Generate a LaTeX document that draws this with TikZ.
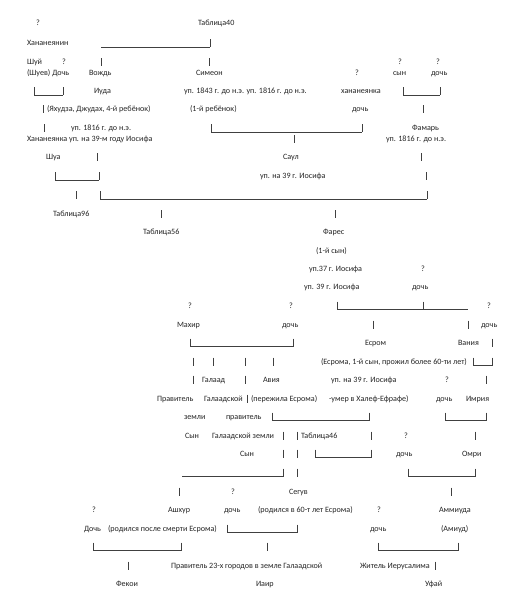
\documentclass[tikz,border=0pt]{standalone}
\usepackage{fontspec}
\setmainfont{Carlito}
\newcounter{nd}
\newcommand\tx[3]{\stepcounter{nd}\node[lbl] (n\arabic{nd}) at (#1,{-3-#2}) {#3};}
\newcommand\vb[2]{\draw[ln] (#1,{3.5-#2}) -- (#1,{-4.5-#2});}
\newcommand\hb[3]{\draw[ln] (#1,{-4.5-#3}) -- (#2,{-4.5-#3});}
\begin{document}
\begin{tikzpicture}[x=1pt,y=1pt,
  lbl/.style={anchor=base west,inner sep=0pt,outer sep=0pt,font=\fontsize{8.1}{10}\selectfont,text=black!85},
  ln/.style={line width=0.5pt,draw=black!75}]
\useasboundingbox[fill=white] (0,0) rectangle (509,-601);
% row 23
\tx{36}{23}{?}
\tx{198}{23}{Таблица40}
% row 43
\tx{27}{43}{Хананеянин}
\hb{101}{210}{43}\vb{210}{43}
% row 62
\tx{27}{62}{Шуй}
\tx{62}{62}{?}
\vb{101}{62}\vb{209}{62}
\tx{398}{62}{?}
\tx{436}{62}{?}
% row 73
\tx{27}{73}{(Шуев) Дочь}
\tx{89}{73}{Вождь}
\tx{196}{73}{Симеон}
\tx{355}{73}{?}
\tx{393}{73}{сын}
\tx{431}{73}{дочь}
% row 91
\vb{34}{91}\hb{34}{63}{91}\vb{63}{91}
\tx{94}{91}{Иуда}
\tx{184}{91}{уп. 1843 г. до н.э. уп. 1816 г. до н.э.}
\tx{341}{91}{хананеянка}
\vb{403}{91}\hb{403}{440}{91}\vb{440}{91}
% row 109
\vb{43}{109}
\tx{47}{109}{(Яхудза, Джудах, 4-й ребёнок)}
\tx{190}{109}{(1-й ребёнок)}
\tx{352}{109}{дочь}
\vb{423}{109}
% row 128
\vb{44}{128}
\tx{71}{128}{уп. 1816 г. до н.э.}
\vb{211}{128}\hb{211}{362}{128}\vb{362}{128}
\tx{412}{128}{Фамарь}
% row 139
\tx{27}{139}{Хананеянка уп. на 39-м году Иосифа}
\vb{294}{139}
\tx{386}{139}{уп. 1816 г. до н.э.}
% row 157
\tx{46}{157}{Шуа}
\vb{97}{157}
\tx{283}{157}{Саул}
\vb{421}{157}
% row 176
\vb{55}{176}\hb{55}{99}{176}\vb{99}{176}
\tx{260}{176}{уп. на 39 г. Иосифа}
\vb{426}{176}
% row 195
\vb{76}{195}
\vb{100}{195}\hb{100}{427}{195}\vb{427}{195}
% row 214
\tx{53}{214}{Таблица96}
\vb{161}{214}\vb{335}{214}
% row 231
\tx{143}{231}{Таблица56}
\tx{323}{231}{Фарес}
% row 250
\tx{316}{250}{(1-й сын)}
% row 268
\tx{309}{268}{уп.37 г. Иосифа}
\tx{421}{268}{?}
% row 286
\tx{304}{286}{уп. 39 г. Иосифа}
\tx{412}{286}{дочь}
% row 305
\tx{188}{305}{?}
\tx{289}{305}{?}
\vb{337}{305}\hb{337}{468}{305}\vb{423}{305}
\tx{487}{305}{?}
% row 324
\tx{177}{324}{Махир}
\tx{282}{324}{дочь}
\vb{373}{324}\vb{468}{324}
\tx{481}{324}{дочь}
% row 342
\vb{190}{342}\hb{190}{293}{342}\vb{293}{342}
\tx{365}{342}{Есром}
\tx{458}{342}{Вания}
\vb{492}{342}
% row 361
\vb{193}{361}\vb{213}{361}\vb{245}{361}\vb{273}{361}
\tx{321}{361}{(Есрома, 1-й сын, прожил более 60-ти лет)}
\vb{473}{361}\hb{473}{492}{361}\vb{492}{361}
% row 379
\vb{193}{379}
\tx{202}{379}{Галаад}
\vb{245}{379}
\tx{263}{379}{Авия}
\tx{331}{379}{уп. на 39 г. Иосифа}
\tx{445}{379}{?}
\vb{486}{379}
% row 398
\tx{157}{398}{Правитель}
\tx{204}{398}{Галаадской}
\vb{247}{398}
\tx{251}{398}{(пережила Есрома)}
\tx{329}{398}{-умер в Халеф-Ефрафе)}
\tx{436}{398}{дочь}
\tx{466}{398}{Имрия}
% row 416
\tx{184}{416}{земли}
\tx{226}{416}{правитель}
\vb{272}{416}\hb{272}{369}{416}\vb{369}{416}
\vb{445}{416}\hb{445}{486}{416}\vb{486}{416}
% row 435
\tx{185}{435}{Сын}
\tx{212}{435}{Галаадской земли}
\vb{283}{435}\vb{297}{435}
\tx{301}{435}{Таблица46}
\vb{371}{435}
\tx{404}{435}{?}
\vb{475}{435}
% row 453
\tx{240}{453}{Сын}
\vb{283}{453}\vb{297}{453}
\vb{315}{453}\hb{315}{371}{453}\vb{371}{453}
\tx{396}{453}{дочь}
\tx{462}{453}{Омри}
% row 472
\hb{182}{283}{472}\vb{283}{472}
\vb{297}{472}
\vb{408}{472}\hb{408}{475}{472}\vb{475}{472}
% row 491
\vb{179}{491}
\tx{231}{491}{?}
\tx{289}{491}{Сегув}
\vb{451}{491}
% row 509
\tx{92}{509}{?}
\tx{168}{509}{Ашхур}
\tx{224}{509}{дочь}
\tx{258}{509}{(родился в 60-т лет Есрома)}
\tx{377}{509}{?}
\tx{439}{509}{Аммиуда}
% row 528
\tx{84}{528}{Дочь}
\tx{108}{528}{(родился после смерти Есрома)}
\vb{227}{528}\hb{227}{297}{528}\vb{297}{528}
\tx{370}{528}{дочь}
\tx{441}{528}{(Амиуд)}
% row 546
\vb{93}{546}\hb{93}{181}{546}\vb{181}{546}
\vb{267}{546}
\vb{378}{546}\hb{378}{458}{546}\vb{458}{546}
% row 565
\vb{128}{565}
\tx{171}{565}{Правитель 23-х городов в земле Галаадской}
\tx{360}{565}{Житель Иерусалима}
\vb{435}{565}
% row 583
\tx{116}{583}{Фекои}
\tx{256}{583}{Иаир}
\tx{425}{583}{Уфай}
\end{tikzpicture}
\end{document}
